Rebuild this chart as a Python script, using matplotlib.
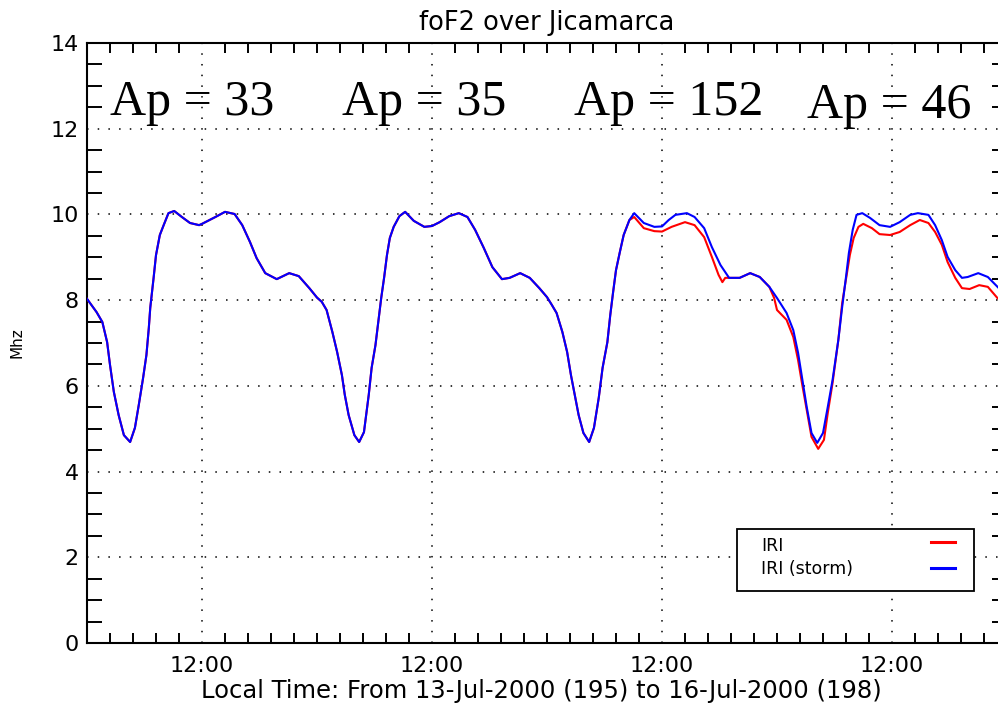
import numpy as np
import matplotlib
matplotlib.use("Agg")
import matplotlib.pyplot as plt
from matplotlib.patches import Rectangle
from matplotlib.lines import Line2D
from matplotlib.ticker import MultipleLocator, FixedLocator

# hours since 13-Jul-2000 00:00 LT, foF2 in MHz (IRI storm model, blue)
storm_hours = [0, 1.0, 1.6, 2.1, 2.4, 2.8, 3.3, 3.85, 4.5, 5.0, 5.4, 5.85, 6.2, 6.45, 6.6, 6.95,
               7.2, 7.6, 8.0, 8.5, 9.1, 9.9, 10.75, 11.7, 12.0, 13.4, 14.4, 15.4, 16.2, 17.0,
               17.7, 18.6, 19.8, 21.1, 22.1, 23.2, 24.0,
               24.5, 25.0, 25.6, 26.1, 26.6, 26.9, 27.3, 27.9, 28.4, 28.9, 29.4, 29.7, 30.1,
               30.4, 30.7, 31.0, 31.3, 31.6, 32.0, 32.6, 33.2, 34.1, 35.2, 36.0, 36.8, 37.8,
               38.8, 39.7, 40.5, 41.4, 42.3, 43.3, 44.1, 45.2, 46.2, 47.2, 48.0,
               48.5, 49.0, 49.6, 50.1, 50.5, 50.9, 51.3, 51.8, 52.4, 52.9, 53.4, 53.8, 54.3,
               54.6, 54.9, 55.2, 55.6, 56.0, 56.6, 57.1, 58.1, 59.2, 60.0, 60.7, 61.4, 62.6,
               63.4, 64.4, 65.2, 66.1, 67.0, 68.1, 69.2, 70.2, 71.2, 72.0,
               73.0, 73.7, 74.2, 74.6, 75.1, 75.6, 76.2, 76.8, 77.3, 77.8, 78.4, 78.8, 79.2,
               79.5, 79.9, 80.3, 80.9, 81.7, 82.7, 83.8, 84.8, 85.9, 86.7, 87.8, 88.5, 89.2,
               89.8, 90.6, 91.3, 91.9, 93.0, 94.0, 95.0, 96.0]
storm_fof2 = [8.03, 7.72, 7.49, 7.02, 6.49, 5.86, 5.32, 4.85, 4.69, 5.02, 5.55, 6.18, 6.72, 7.35, 7.82, 8.52,
              9.05, 9.52, 9.75, 10.03, 10.08, 9.94, 9.80, 9.75, 9.78, 9.94, 10.06, 10.01, 9.75, 9.36,
              8.98, 8.63, 8.49, 8.63, 8.56, 8.28, 8.06,
              7.96, 7.77, 7.26, 6.79, 6.25, 5.79, 5.32, 4.85, 4.69, 4.92, 5.79, 6.42, 6.95,
              7.49, 8.05, 8.52, 9.05, 9.45, 9.71, 9.96, 10.06, 9.85, 9.71, 9.73, 9.82, 9.96,
              10.03, 9.94, 9.64, 9.22, 8.77, 8.49, 8.52, 8.63, 8.52, 8.28, 8.07,
              7.89, 7.70, 7.26, 6.79, 6.25, 5.79, 5.32, 4.90, 4.69, 5.02, 5.72, 6.42, 7.02,
              7.65, 8.19, 8.70, 9.12, 9.52, 9.87, 10.03, 9.80, 9.71, 9.72, 9.87, 9.99, 10.03,
              9.94, 9.68, 9.24, 8.82, 8.52, 8.52, 8.63, 8.54, 8.31, 8.05,
              7.70, 7.30, 6.77, 6.21, 5.51, 4.90, 4.67, 4.90, 5.51, 6.14, 7.07, 7.84, 8.54,
              9.10, 9.64, 9.99, 10.03, 9.92, 9.75, 9.71, 9.82, 9.99, 10.03, 9.99, 9.75, 9.40,
              9.01, 8.70, 8.52, 8.54, 8.63, 8.54, 8.31, 8.10]

# quiet IRI (red) follows the storm curve until the 15-Jul afternoon
iri_split = 56.6
iri_tail_hours = [57.1, 58.1, 59.2, 60.0, 61.0, 62.4, 63.4, 64.4, 65.2, 65.9, 66.3, 66.6, 67.0,
                  68.1, 69.2, 70.2, 71.2, 71.7, 72.0, 73.0, 73.7, 74.2, 74.6, 75.1, 75.6, 76.3,
                  76.9, 77.3, 77.8, 78.4, 78.8, 79.3, 79.6, 80.0, 80.5, 81.0, 81.9, 82.7, 83.8,
                  84.8, 85.9, 86.9, 87.8, 88.5, 89.2, 89.8, 90.6, 91.3, 92.1, 93.1, 94.0, 95.0, 96.0]
iri_tail_fof2 = [9.94, 9.68, 9.61, 9.60, 9.71, 9.82, 9.75, 9.47, 9.01, 8.59, 8.42, 8.52, 8.52,
                 8.52, 8.63, 8.54, 8.31, 8.05, 7.77, 7.54, 7.14, 6.60, 6.07, 5.44, 4.81, 4.53,
                 4.74, 5.37, 6.07, 7.07, 7.93, 8.63, 9.05, 9.45, 9.71, 9.78, 9.68, 9.54, 9.52,
                 9.59, 9.75, 9.87, 9.80, 9.59, 9.29, 8.89, 8.52, 8.28, 8.26, 8.35, 8.31, 8.05, 7.85]

ap_labels = ["Ap = 33", "Ap = 35", "Ap = 152", "Ap = 46"]
ap_hours = [2.4, 26.6, 50.8, 75.1]
ap_level = [12.32, 12.32, 12.32, 12.25]

noon_hours = [12, 36, 60, 84]
noon_labels = ["12:00"] * 4

sh = np.array(storm_hours)
sv = np.array(storm_fof2)
keep = sh <= iri_split
iri_hours = np.concatenate([sh[keep], iri_tail_hours])
iri_fof2 = np.concatenate([sv[keep], iri_tail_fof2])

fig = plt.figure(figsize=(9.98, 7.08), dpi=100)
ax = fig.add_axes([87 / 998, 65 / 708, 920 / 998, 600 / 708])

ax.plot(iri_hours, iri_fof2, color="red", lw=1.5, zorder=3)
ax.plot(sh, sv, color="blue", lw=1.5, zorder=4)

ax.set_xlim(0, 96)
ax.set_ylim(0, 14)

ax.xaxis.set_major_locator(FixedLocator(noon_hours))
ax.set_xticklabels(noon_labels)
ax.xaxis.set_minor_locator(MultipleLocator(2.4))
ax.yaxis.set_major_locator(MultipleLocator(2))
ax.yaxis.set_minor_locator(MultipleLocator(0.5))

ax.tick_params(which="major", length=0, labelsize=16)
ax.tick_params(axis="x", which="major", pad=9)
ax.tick_params(axis="y", which="major", pad=6)
ax.tick_params(axis="x", which="minor", direction="in", length=7.5, width=1.4,
               top=True, bottom=True)
ax.tick_params(axis="y", which="minor", direction="in", length=10.5, width=1.4,
               left=True, right=True)
for s in ax.spines.values():
    s.set_linewidth(1.5)

ax.grid(True, which="major", color="black", lw=1.1, linestyle=(0, (1, 6)))

ax.set_title("foF2 over Jicamarca", fontsize=18.5, pad=9)
ax.set_ylabel("Mhz", fontsize=11)
ax.yaxis.set_label_coords(-0.068, 0.5)
ax.set_xlabel("Local Time: From 13-Jul-2000 (195) to 16-Jul-2000 (198)", fontsize=17.5)
ax.xaxis.set_label_coords(0.494, -0.06)

for lab, hx, lv in zip(ap_labels, ap_hours, ap_level):
    ax.text(hx, lv, lab, fontsize=36, family="Liberation Serif", va="baseline",
            ha="left", zorder=5)

# legend box: text on the left, line sample on the right
ax.add_patch(Rectangle((0.7065, 0.0867), 0.2575, 0.1033, transform=ax.transAxes,
                       facecolor="white", edgecolor="black", lw=1.3, zorder=6))
ax.text(0.733, 0.162, "IRI", transform=ax.transAxes, fontsize=12.5, va="center", zorder=7)
ax.text(0.733, 0.124, "IRI (storm)", transform=ax.transAxes, fontsize=12.5, va="center", zorder=7)
ax.add_line(Line2D([0.917, 0.944], [0.168, 0.168], transform=ax.transAxes,
                   color="red", lw=2.2, zorder=7))
ax.add_line(Line2D([0.917, 0.944], [0.125, 0.125], transform=ax.transAxes,
                   color="blue", lw=2.2, zorder=7))

fig.savefig("out.png", dpi=100)
